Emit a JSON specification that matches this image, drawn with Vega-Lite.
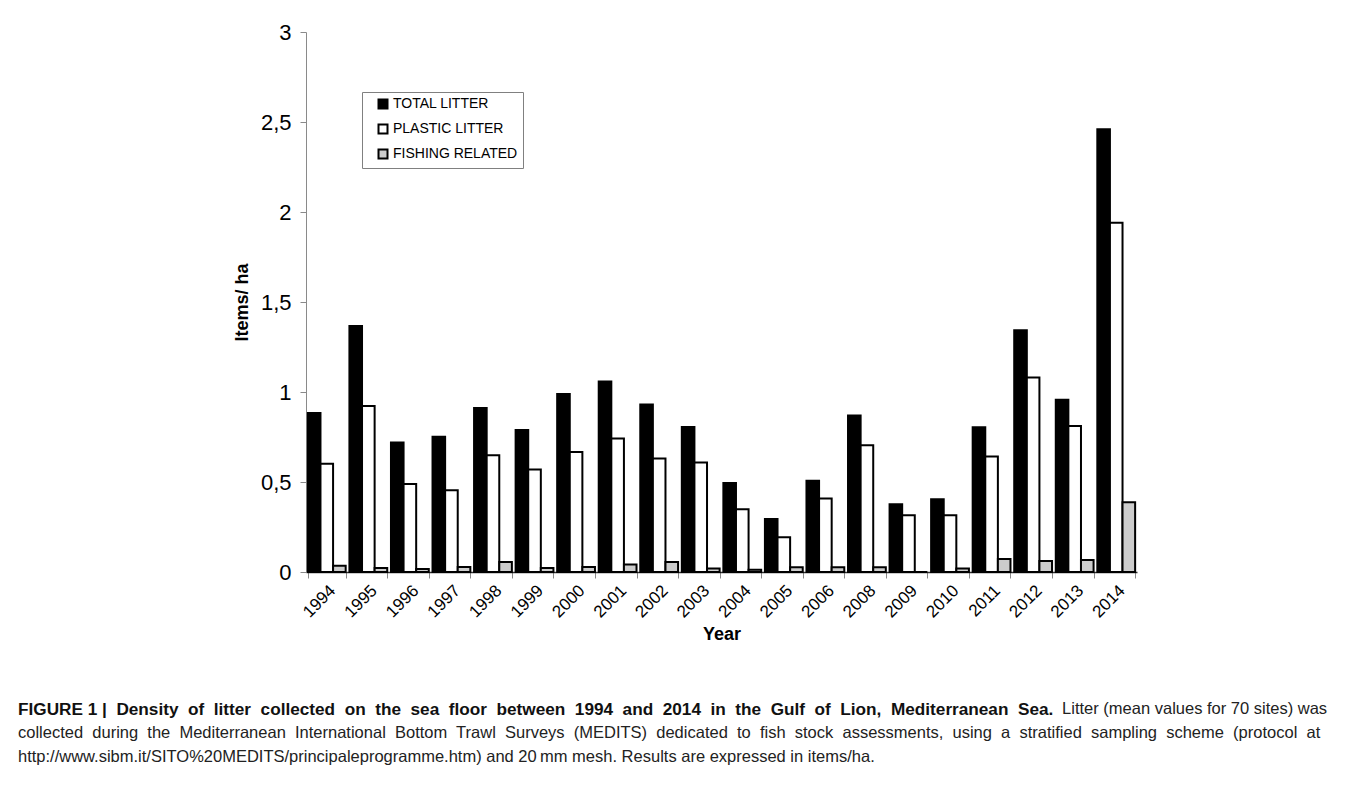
{
  "$schema": "https://vega.github.io/schema/vega-lite/v6.json",
  "width": 831,
  "height": 540,
  "autosize": {"type": "none"},
  "padding": {"left": 306, "top": 32, "right": 221, "bottom": 213},
  "background": "white",
  "data": {
    "values": [
      {"year": "1994", "series": "TOTAL LITTER", "value": 0.883},
      {"year": "1994", "series": "PLASTIC LITTER", "value": 0.602},
      {"year": "1994", "series": "FISHING RELATED", "value": 0.035},
      {"year": "1995", "series": "TOTAL LITTER", "value": 1.367},
      {"year": "1995", "series": "PLASTIC LITTER", "value": 0.922},
      {"year": "1995", "series": "FISHING RELATED", "value": 0.022},
      {"year": "1996", "series": "TOTAL LITTER", "value": 0.72},
      {"year": "1996", "series": "PLASTIC LITTER", "value": 0.489},
      {"year": "1996", "series": "FISHING RELATED", "value": 0.017},
      {"year": "1997", "series": "TOTAL LITTER", "value": 0.752},
      {"year": "1997", "series": "PLASTIC LITTER", "value": 0.454},
      {"year": "1997", "series": "FISHING RELATED", "value": 0.028},
      {"year": "1998", "series": "TOTAL LITTER", "value": 0.911},
      {"year": "1998", "series": "PLASTIC LITTER", "value": 0.648},
      {"year": "1998", "series": "FISHING RELATED", "value": 0.056},
      {"year": "1999", "series": "TOTAL LITTER", "value": 0.789},
      {"year": "1999", "series": "PLASTIC LITTER", "value": 0.57},
      {"year": "1999", "series": "FISHING RELATED", "value": 0.022},
      {"year": "2000", "series": "TOTAL LITTER", "value": 0.989},
      {"year": "2000", "series": "PLASTIC LITTER", "value": 0.667},
      {"year": "2000", "series": "FISHING RELATED", "value": 0.028},
      {"year": "2001", "series": "TOTAL LITTER", "value": 1.059},
      {"year": "2001", "series": "PLASTIC LITTER", "value": 0.741},
      {"year": "2001", "series": "FISHING RELATED", "value": 0.041},
      {"year": "2002", "series": "TOTAL LITTER", "value": 0.93},
      {"year": "2002", "series": "PLASTIC LITTER", "value": 0.631},
      {"year": "2002", "series": "FISHING RELATED", "value": 0.056},
      {"year": "2003", "series": "TOTAL LITTER", "value": 0.806},
      {"year": "2003", "series": "PLASTIC LITTER", "value": 0.609},
      {"year": "2003", "series": "FISHING RELATED", "value": 0.02},
      {"year": "2004", "series": "TOTAL LITTER", "value": 0.494},
      {"year": "2004", "series": "PLASTIC LITTER", "value": 0.348},
      {"year": "2004", "series": "FISHING RELATED", "value": 0.013},
      {"year": "2005", "series": "TOTAL LITTER", "value": 0.294},
      {"year": "2005", "series": "PLASTIC LITTER", "value": 0.193},
      {"year": "2005", "series": "FISHING RELATED", "value": 0.026},
      {"year": "2006", "series": "TOTAL LITTER", "value": 0.507},
      {"year": "2006", "series": "PLASTIC LITTER", "value": 0.409},
      {"year": "2006", "series": "FISHING RELATED", "value": 0.026},
      {"year": "2008", "series": "TOTAL LITTER", "value": 0.869},
      {"year": "2008", "series": "PLASTIC LITTER", "value": 0.704},
      {"year": "2008", "series": "FISHING RELATED", "value": 0.026},
      {"year": "2009", "series": "TOTAL LITTER", "value": 0.376},
      {"year": "2009", "series": "PLASTIC LITTER", "value": 0.315},
      {"year": "2009", "series": "FISHING RELATED", "value": 0},
      {"year": "2010", "series": "TOTAL LITTER", "value": 0.404},
      {"year": "2010", "series": "PLASTIC LITTER", "value": 0.315},
      {"year": "2010", "series": "FISHING RELATED", "value": 0.02},
      {"year": "2011", "series": "TOTAL LITTER", "value": 0.804},
      {"year": "2011", "series": "PLASTIC LITTER", "value": 0.641},
      {"year": "2011", "series": "FISHING RELATED", "value": 0.072},
      {"year": "2012", "series": "TOTAL LITTER", "value": 1.343},
      {"year": "2012", "series": "PLASTIC LITTER", "value": 1.08},
      {"year": "2012", "series": "FISHING RELATED", "value": 0.061},
      {"year": "2013", "series": "TOTAL LITTER", "value": 0.957},
      {"year": "2013", "series": "PLASTIC LITTER", "value": 0.811},
      {"year": "2013", "series": "FISHING RELATED", "value": 0.067},
      {"year": "2014", "series": "TOTAL LITTER", "value": 2.46},
      {"year": "2014", "series": "PLASTIC LITTER", "value": 1.94},
      {"year": "2014", "series": "FISHING RELATED", "value": 0.387}
    ]
  },
  "mark": {"type": "bar", "stroke": "black", "strokeWidth": 2, "strokeJoin": "miter"},
  "encoding": {
    "x": {
      "field": "year",
      "type": "nominal",
      "sort": null,
      "scale": {"paddingInner": 0.09, "paddingOuter": 0.045},
      "axis": {
        "title": "Year",
        "titleFontSize": 18,
        "titleFontWeight": "bold",
        "titleColor": "black",
        "titlePadding": 5,
        "labelAngle": -45,
        "labelFontSize": 17,
        "labelColor": "black",
        "labelPadding": 4,
        "tickBand": "extent",
        "tickExtra": true,
        "tickColor": "#8a8a8a",
        "tickSize": 6,
        "domainColor": "#333333",
        "domainWidth": 1.5
      }
    },
    "xOffset": {
      "field": "series",
      "sort": ["TOTAL LITTER", "PLASTIC LITTER", "FISHING RELATED"],
      "scale": {"paddingInner": 0, "paddingOuter": 0}
    },
    "y": {
      "field": "value",
      "type": "quantitative",
      "scale": {"domain": [0, 3], "nice": false},
      "axis": {
        "title": "Items/ ha",
        "titleFontSize": 18,
        "titleFontWeight": "bold",
        "titleColor": "black",
        "titlePadding": 9,
        "values": [0, 0.5, 1, 1.5, 2, 2.5, 3],
        "labelExpr": "replace(format(datum.value, '~g'), '.', ',')",
        "labelFontSize": 22,
        "labelColor": "black",
        "labelPadding": 9,
        "grid": false,
        "tickColor": "#8a8a8a",
        "tickSize": 6,
        "domainColor": "#8a8a8a"
      }
    },
    "color": {
      "field": "series",
      "type": "nominal",
      "scale": {
        "domain": ["TOTAL LITTER", "PLASTIC LITTER", "FISHING RELATED"],
        "range": ["#000000", "#ffffff", "#cccccc"]
      },
      "legend": {
        "orient": "none",
        "legendX": 56,
        "legendY": 60,
        "title": null,
        "strokeColor": "#808080",
        "fillColor": "white",
        "padding": 5,
        "symbolOffset": 9,
        "symbolType": "square",
        "symbolSize": 81,
        "symbolStrokeColor": "black",
        "symbolStrokeWidth": 2,
        "symbolOpacity": 1,
        "labelFontSize": 14,
        "labelColor": "black",
        "labelOffset": 3,
        "rowPadding": 7,
        "labelExpr": "datum.label == 'TOTAL LITTER' ? '\u00a0TOTAL LITTER' : datum.label"
      }
    }
  },
  "title": {
    "text": "FIGURE 1 |\u00a0 Density\u00a0 of\u00a0 litter\u00a0 collected\u00a0 on\u00a0 the\u00a0 sea\u00a0 floor\u00a0 between\u00a0 1994\u00a0 and\u00a0 2014\u00a0 in\u00a0 the\u00a0 Gulf\u00a0 of\u00a0 Lion,\u00a0 Mediterranean\u00a0 Sea.",
    "subtitle": [
      "\u200b\u2003\u2003\u2003\u2003\u2003\u2003\u2003\u2003\u2003\u2003\u2003\u2003\u2003\u2003\u2003\u2003\u2003\u2003\u2003\u2003\u2003\u2003\u2003\u2003\u2003\u2003\u2003\u2003\u2003\u2003\u2003\u2003\u2003\u2003\u2003\u2003\u2003\u2003\u2003\u2003\u2003\u2003\u2003\u2003\u2003\u2003\u2003\u2003\u2003\u2003\u2003\u2003\u2003\u2003\u2003\u2003\u2003\u2003\u2003\u2003\u2003\u2003\u2003\u00a0Litter (mean values for 70 sites) was",
      "collected\u00a0 during\u00a0 the\u00a0 Mediterranean\u00a0 International\u00a0 Bottom\u00a0 Trawl\u00a0 Surveys\u00a0 (MEDITS)\u00a0 dedicated\u00a0 to\u00a0 fish\u00a0 stock\u00a0 assessments,\u00a0 using\u00a0 a\u00a0 stratified\u00a0 sampling\u00a0 scheme\u00a0 (protocol\u00a0 at",
      "http://www.sibm.it/SITO%20MEDITS/principaleprogramme.htm) and 20\u2009mm mesh. Results are expressed in items/ha."
    ],
    "orient": "bottom",
    "anchor": "start",
    "frame": "group",
    "dx": -288,
    "offset": 58,
    "font": "Liberation Sans",
    "fontSize": 17.2,
    "fontWeight": "bold",
    "color": "#111111",
    "subtitleFont": "Liberation Sans",
    "subtitleFontSize": 16.5,
    "subtitleColor": "#222222",
    "subtitleLineHeight": 24,
    "subtitlePadding": -17
  },
  "config": {
    "view": {"stroke": null},
    "font": "Liberation Sans"
  }
}
